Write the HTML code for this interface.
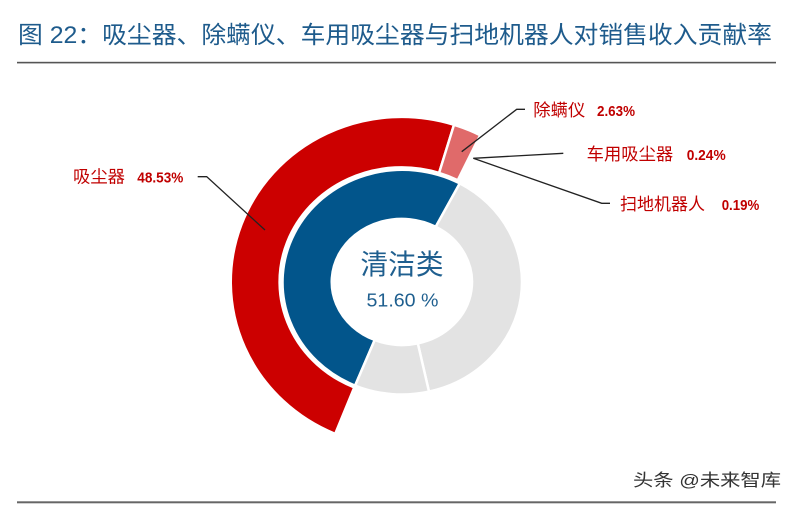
<!DOCTYPE html>
<html>
<head>
<meta charset="utf-8">
<style>
  html, body { margin: 0; padding: 0; background: #ffffff; }
  body { width: 794px; height: 505px; overflow: hidden; }
  svg { display: block; }
  .cjk { font-family: "Liberation Sans", "Noto Sans CJK SC", sans-serif; }
</style>
</head>
<body>
<svg width="794" height="505" viewBox="0 0 794 505" xmlns="http://www.w3.org/2000/svg">
  <rect x="0" y="0" width="794" height="505" fill="#ffffff"/>

  <!-- Title -->
  <text class="cjk" x="18" y="43" font-size="24" fill="#1e5b8c" textLength="754" lengthAdjust="spacingAndGlyphs">图 22：吸尘器、除螨仪、车用吸尘器与扫地机器人对销售收入贡献率</text>
  <rect x="17" y="61.8" width="759" height="1.6" fill="#555555"/>

  <!-- Inner ring -->
  <g stroke="#ffffff" stroke-width="2.5" stroke-linejoin="miter">
    <!-- blue 51.60% -->
    <path d="M355.1,385.6 A120,112.5 0 1 1 459.8,183.4 L435.7,226.8 A70,63 0 1 0 374.7,340.0 Z" fill="#02558b"/>
    <!-- gray 1 -->
    <path d="M459.8,183.4 A120,112.5 0 0 1 429.0,391.6 L417.8,343.4 A70,63 0 0 0 435.7,226.8 Z" fill="#e3e3e3"/>
    <!-- gray 2 -->
    <path d="M429.0,391.6 A120,112.5 0 0 1 355.1,385.6 L374.7,340.0 A70,63 0 0 0 417.8,343.4 Z" fill="#e3e3e3"/>
  </g>

  <!-- Outer ring -->
  <g stroke="#ffffff" stroke-width="2.5" stroke-linejoin="miter">
    <!-- red 48.53% -->
    <path d="M335.2,433.9 A171,165 0 0 1 454.0,124.8 L439.1,172.9 A122,114.5 0 0 0 354.3,387.4 Z" fill="#cc0000"/>
    <!-- pink 2.63% -->
    <path d="M454.0,124.8 A171,165 0 0 1 480.2,135.2 L457.8,180.2 A122,114.5 0 0 0 439.1,172.9 Z" fill="#e06a6a"/>
  </g>

  <!-- Center text -->
  <text class="cjk" x="360.5" y="274" font-size="28" fill="#1f5f8f" textLength="83" lengthAdjust="spacingAndGlyphs">清洁类</text>
  <text x="366.5" y="306.5" font-family="Liberation Sans, sans-serif" font-size="18.5" fill="#1f5f8f" textLength="72" lengthAdjust="spacingAndGlyphs">51.60 %</text>

  <!-- Leader lines -->
  <g fill="none" stroke="#222222" stroke-width="1.3">
    <polyline points="197.7,176.7 206.7,176.7 265,230"/>
    <polyline points="461.7,151.7 516.7,109.3 525,109.3"/>
    <polyline points="473.3,158.3 563.3,153.3"/>
    <polyline points="473.3,158.3 601.7,203.3 610,203.3"/>
  </g>

  <!-- Labels -->
  <g fill="#c00000">
    <text class="cjk" x="73" y="182.5" font-size="17" textLength="52" lengthAdjust="spacingAndGlyphs">吸尘器</text>
    <text x="137.3" y="182.3" font-family="Liberation Sans, sans-serif" font-weight="bold" font-size="15" textLength="46" lengthAdjust="spacingAndGlyphs">48.53%</text>

    <text class="cjk" x="533.3" y="116" font-size="17" textLength="52" lengthAdjust="spacingAndGlyphs">除螨仪</text>
    <text x="597" y="116" font-family="Liberation Sans, sans-serif" font-weight="bold" font-size="15" textLength="38" lengthAdjust="spacingAndGlyphs">2.63%</text>

    <text class="cjk" x="586.7" y="160" font-size="17" textLength="86.5" lengthAdjust="spacingAndGlyphs">车用吸尘器</text>
    <text x="686.7" y="160" font-family="Liberation Sans, sans-serif" font-weight="bold" font-size="15" textLength="39" lengthAdjust="spacingAndGlyphs">0.24%</text>

    <text class="cjk" x="620" y="210" font-size="17" textLength="85" lengthAdjust="spacingAndGlyphs">扫地机器人</text>
    <text x="721.7" y="210" font-family="Liberation Sans, sans-serif" font-weight="bold" font-size="15" textLength="37.6" lengthAdjust="spacingAndGlyphs">0.19%</text>
  </g>

  <!-- Footer -->
  <text class="cjk" x="633" y="486" font-size="17" fill="#333333" textLength="148" lengthAdjust="spacingAndGlyphs">头条 @未来智库</text>
  <rect x="17" y="501.3" width="759" height="2" fill="#666666"/>
</svg>
</body>
</html>
